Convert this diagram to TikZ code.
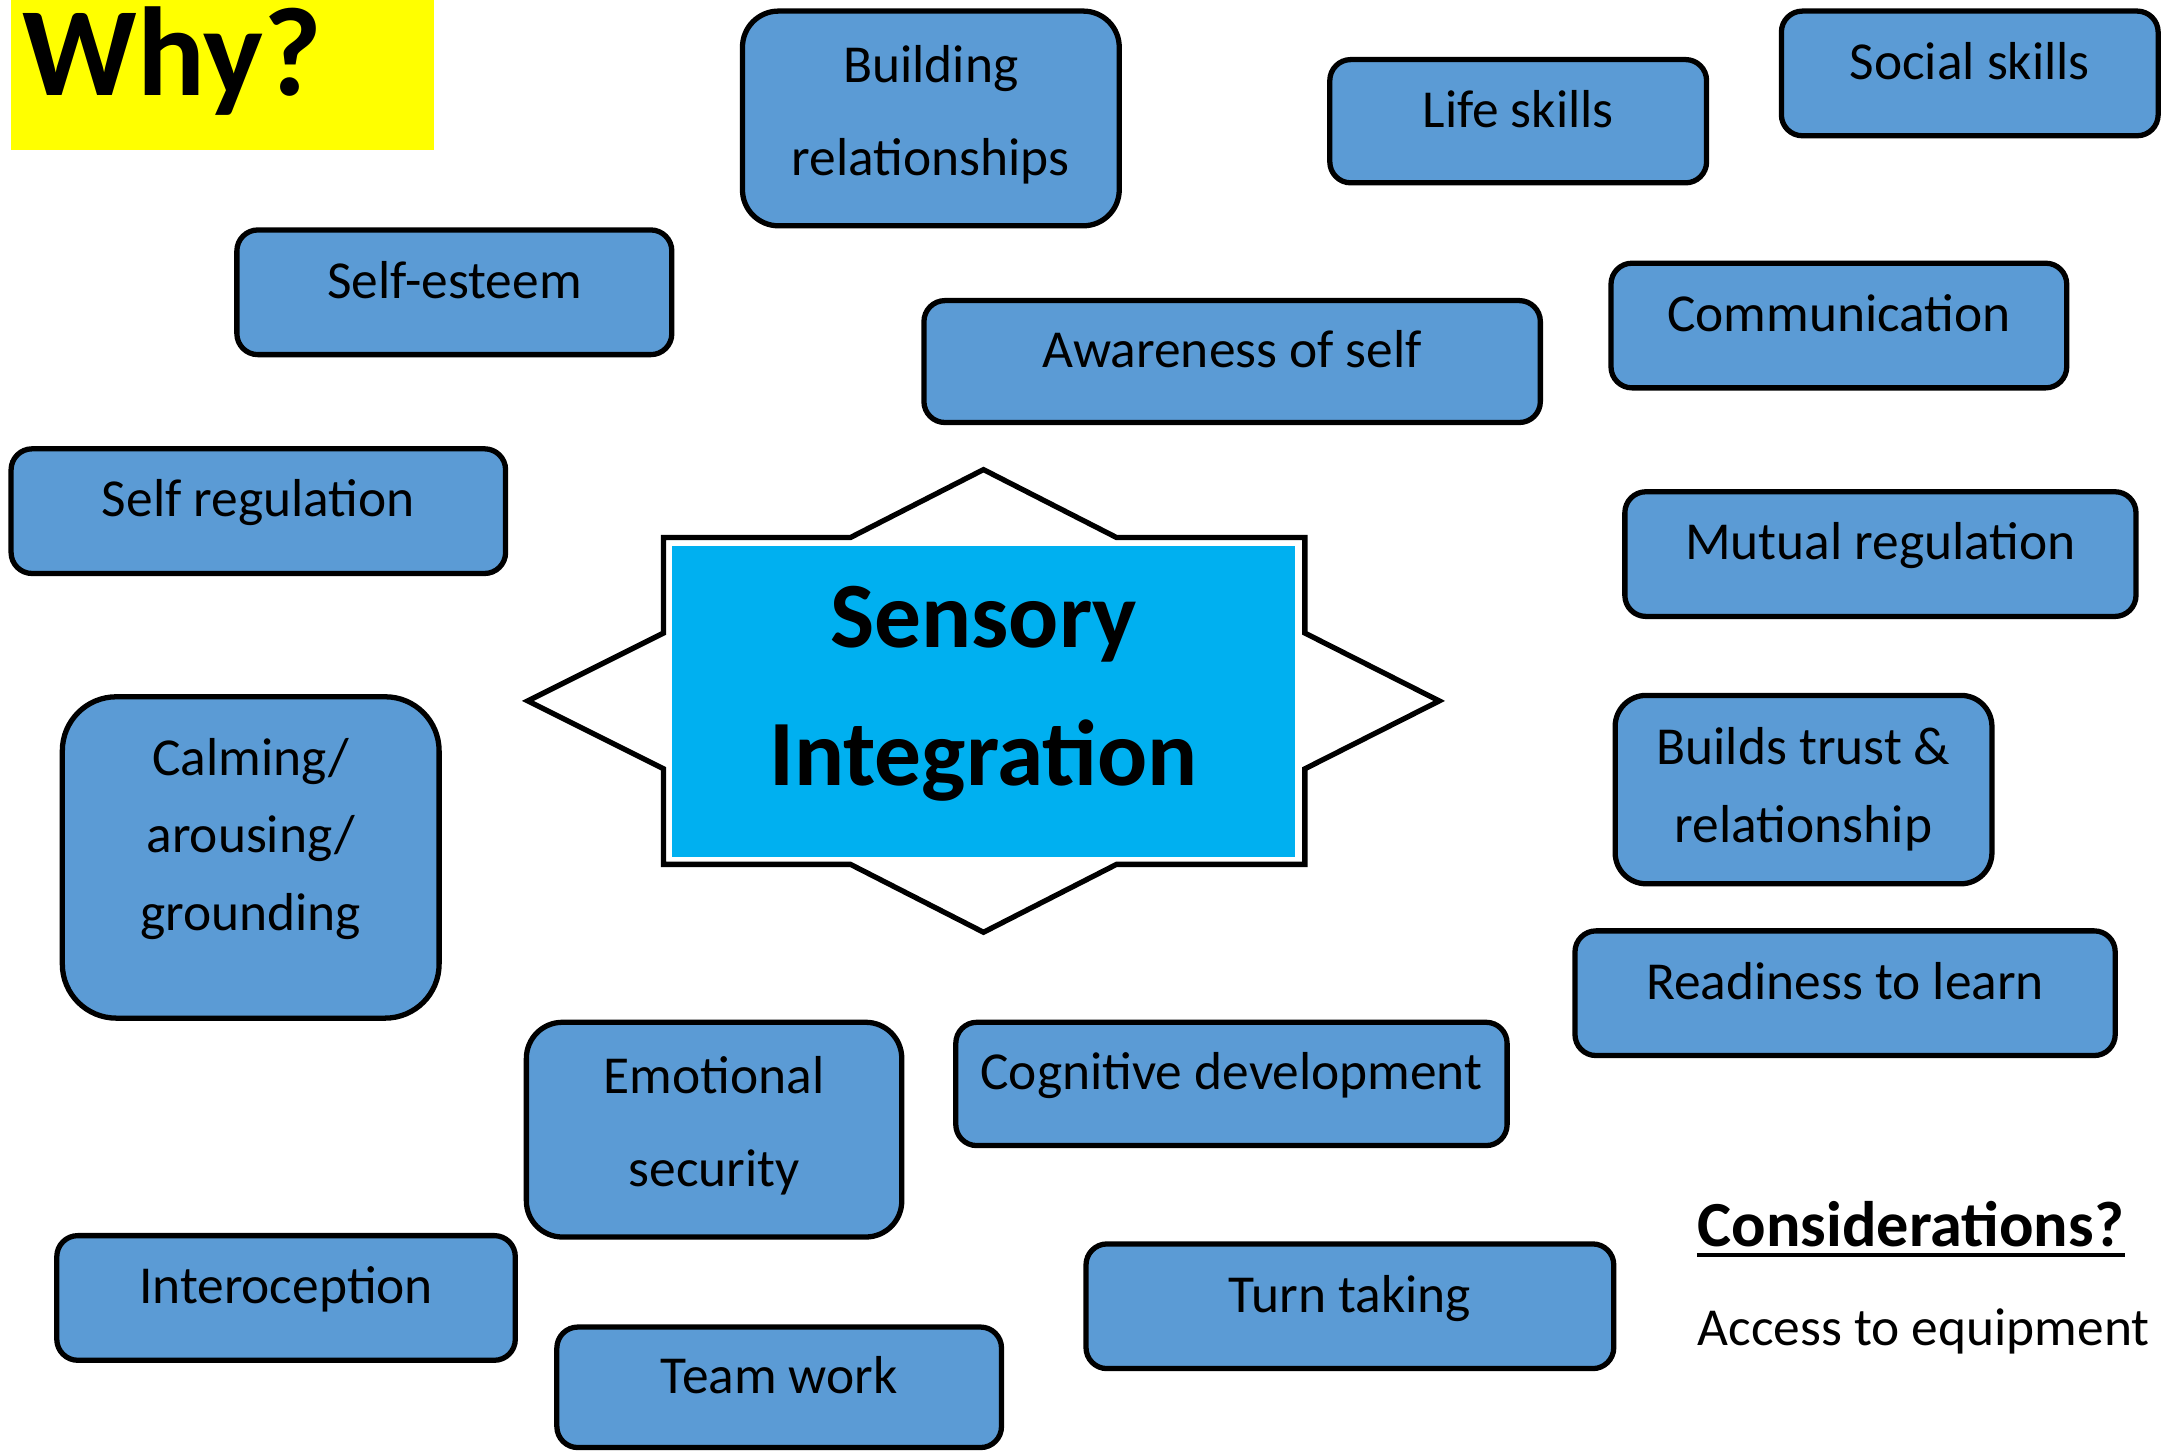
\documentclass[tikz,border=0pt]{standalone}
\usepackage{fontspec}
\setmainfont{Carlito}

\tikzset{
	box/.style={draw=black, line width=1.5pt, fill=boxblue, rounded corners=2.1mm, inner sep=0pt,
		font=\fontsize{15.2}{18}\selectfont, text height=0.7em, text depth=0.37em},
	tallbox/.style={draw=black, line width=1.5pt, fill=boxblue, inner sep=0pt, align=center},
	sz/.style 2 args={minimum width=#1*0.13852mm, minimum height=#2*0.13852mm},
	plain/.style={inner sep=0pt, anchor=base west}
}

\begin{document}
\begin{tikzpicture}[x=0.13852mm, y=-0.13852mm]
		\definecolor{boxblue}{RGB}{91,155,213}
		\definecolor{myblue}{RGB}{0,176,240}
		\definecolor{myyellow}{RGB}{255,255,0}

		\useasboundingbox (0,0) rectangle (1568,1047.5);

		\fill[myyellow] (8,0) rectangle (313,108);
		\node[plain, font=\fontsize{36}{40}\selectfont\bfseries] (why) at (16,69) {Why?};

		\draw[line width=1.5pt, fill=white] (710,339) -- (806,388) -- (942,388) -- (942,457) -- (1039,506) -- (942,555) -- (942,624) -- (806,624) -- (710,673) -- (614,624) -- (479,624) -- (479,555) -- (381,506) -- (479,457) -- (479,388) -- (614,388) -- cycle;
		\node[fill=myblue, sz={450}{225}, inner sep=0pt, align=center, font=\fontsize{26.6}{39.4}\selectfont\bfseries,
			text height=53.24pt, text depth=5.32pt] (si) at (710,506.5) {Sensory\\Integration};

		\node[tallbox, sz={272}{155}, rounded corners=3.6mm, font=\fontsize{15.2}{26.4}\selectfont, text height=35.4pt, text depth=3.04pt] (build) at (672,85.5) {Building\\relationships};
		\node[box, sz={272}{89}] (life) at (1096,87.5) {Life skills};
		\node[box, sz={272}{90}] (social) at (1422,53) {Social skills};
		\node[box, sz={314}{90}] (esteem) at (328,211) {Self-esteem};
		\node[box, sz={445}{88}] (aware) at (889.5,261) {Awareness of self};
		\node[box, sz={329}{90}] (comm) at (1327.5,235) {Communication};
		\node[box, sz={357}{90}] (selfreg) at (186.5,369) {Self regulation};
		\node[box, sz={369}{90}] (mutual) at (1357.5,400) {Mutual regulation};

		\node[tallbox, sz={272}{232}, rounded corners=5.4mm, font=\fontsize{15.2}{22.1}\selectfont, text height=44.56pt, text depth=3.04pt] (calm) at (181,619) {Calming/\\arousing/\\grounding};
		\node[tallbox, sz={272}{136}, rounded corners=3.1mm, font=\fontsize{15.2}{22.1}\selectfont] (trust) at (1302,570) {Builds trust \&\\relationship};
		\node[box, sz={390}{90}] (ready) at (1332,717) {Readiness to learn};

		\node[tallbox, sz={271}{155}, rounded corners=3.6mm, font=\fontsize{15.2}{26.4}\selectfont, text height=35.4pt, text depth=3.04pt] (emotion) at (515.5,815.5) {Emotional\\security};
		\node[box, sz={398}{89}] (cognit) at (889,782.5) {Cognitive development};
		\node[box, sz={331}{90}] (intero) at (206.5,937) {Interoception};
		\node[box, sz={321}{87}] (team) at (562.5,1001.5) {Team work};
		\node[box, sz={381}{90}] (turn) at (974.5,943) {Turn taking};

		\node[plain, font=\fontsize{18.3}{22}\selectfont\bfseries] (cons) at (1225,900) {Considerations?};
		\draw[line width=1.1pt] ([yshift=-0.8mm]cons.base west) -- ([yshift=-0.8mm]cons.base east);
		\node[plain, font=\fontsize{15.2}{18}\selectfont] (access) at (1225,971) {Access to equipment};

\end{tikzpicture}
\end{document}
